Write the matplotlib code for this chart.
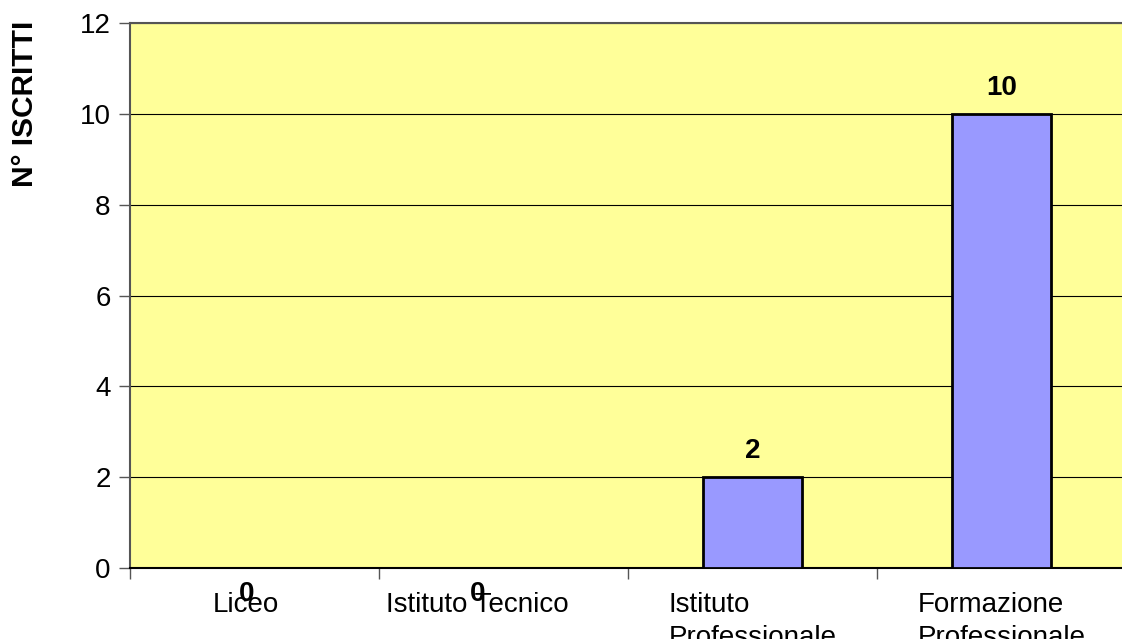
import matplotlib
matplotlib.use("Agg")
import matplotlib.pyplot as plt
import numpy as np

categories = ["Liceo", "Istituto Tecnico", "Istituto\nProfessionale", "Formazione\nProfessionale"]
values = [0, 0, 2, 10]
y_ticks = [0, 2, 4, 6, 8, 10, 12]

plt.rcParams['font.family'] = ['Liberation Sans', 'DejaVu Sans']

fig = plt.figure(figsize=(11.22, 6.39), dpi=100)
W, H = 1122, 639
ax = fig.add_axes([130 / W, (H - 568) / H, 996 / W, (568 - 23) / H])
ax.set_facecolor('#FFFF99')

x = np.arange(len(categories))
ax.bar(x, values, width=0.4, color='#9999FF', edgecolor='black', linewidth=2, zorder=3)

ax.set_xlim(-0.5, len(categories) - 0.5)
ax.set_ylim(0, 12)
ax.set_yticks(y_ticks)
ax.yaxis.grid(True, color='black', linewidth=0.8, zorder=0)
ax.set_axisbelow(True)

# major ticks at category boundaries, labels at centers
ax.set_xticks(np.arange(-0.5, len(categories) + 0.5, 1.0))
ax.set_xticklabels([])
ax.set_xticks(x, minor=True)
ax.set_xticklabels(categories, minor=True, fontsize=20, va='top', multialignment='left',
                   linespacing=1.35)
ax.tick_params(axis='x', which='major', length=8, width=1, color='#555555')
ax.tick_params(axis='x', which='minor', length=0, pad=17)
ax.tick_params(axis='y', length=8, width=1, color='#555555', labelsize=20, pad=6)

# emulate shifted labels of first two categories
label_dx = [-9, -26, 0, 0]
for lbl, dx in zip(ax.xaxis.get_minorticklabels(), label_dx):
    lbl.set_transform(lbl.get_transform() + matplotlib.transforms.ScaledTranslation(dx / 100, 0, fig.dpi_scale_trans))

for s in ['left', 'top']:
    ax.spines[s].set_color('#555555')
    ax.spines[s].set_linewidth(1.5)
ax.spines['bottom'].set_color('black')
ax.spines['bottom'].set_linewidth(1.5)
ax.spines['right'].set_visible(False)

# data labels
label_offsets = [(-8, -26), (-26, -26), (0, 26), (0, 26)]
for xi, v, (dx, dy) in zip(x, values, label_offsets):
    ax.annotate(str(v), (xi, v), xytext=(dx * 0.72, dy * 0.72), textcoords='offset points',
                ha='center', va='center', fontsize=20, fontweight='bold', zorder=5,
                annotation_clip=False)

fig.text(25 / W, 1 - 104 / H, "N° ISCRITTI", rotation=90, ha='center', va='center',
         fontsize=21.5, fontweight='bold')

fig.savefig('out.png', dpi=100)
